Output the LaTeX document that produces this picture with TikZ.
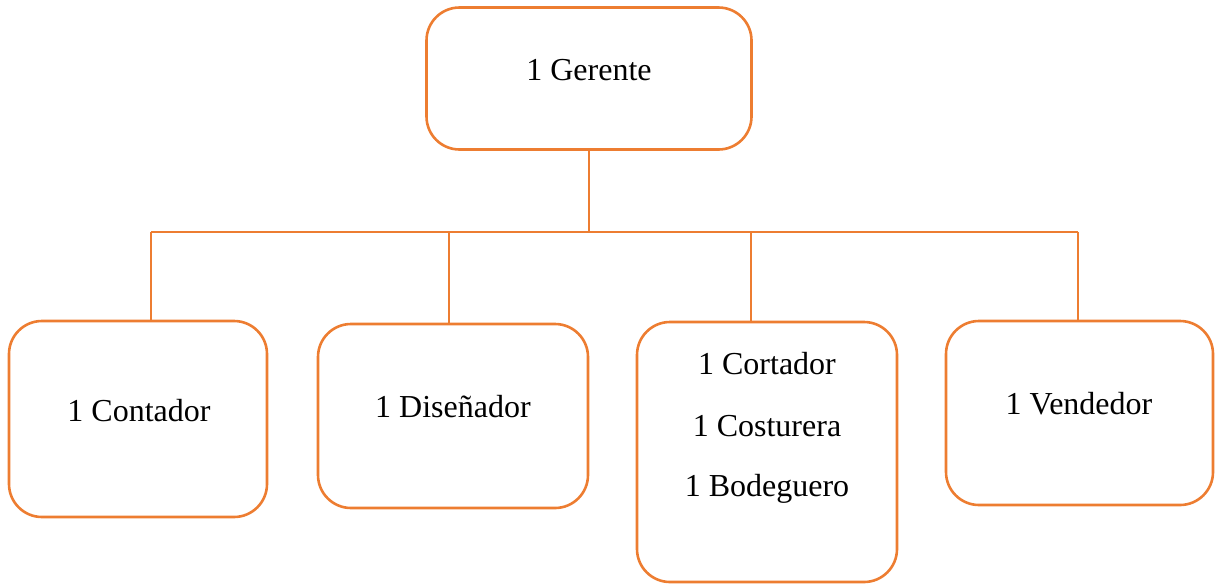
\documentclass[tikz,border=0pt]{standalone}
\usepackage{fontspec}
\setmainfont{Liberation Serif}
\usetikzlibrary{positioning}

\definecolor{naranja}{HTML}{ED7D31}

\begin{document}
\begin{tikzpicture}[x=0.5pt,y=-0.5pt,line width=1.3pt,
    caja/.style={draw=naranja,rounded corners=16.5pt,inner sep=0pt,
      minimum width=#1},
    texto/.style={font=\fontsize{16}{19}\selectfont,text=black},
    linea/.style={draw=naranja,line width=1.4pt}]

    \useasboundingbox (0,0) rectangle (1219,584);

    % cajas
    \node[caja=162.5pt,minimum height=71pt] (gerente)   at (589,78.5)   {};
    \node[caja=129pt,  minimum height=98pt] (contador)  at (138,419)    {};
    \node[caja=135pt,  minimum height=92pt] (disenador) at (453,416)    {};
    \node[caja=130pt,  minimum height=130pt](cortador)  at (767,452)    {};
    \node[caja=133.5pt,minimum height=92pt] (vendedor)  at (1079.5,413) {};

    % textos
    \node[texto] (tgerente)   at (589,70)   {1 Gerente};
    \node[texto] (tcontador)  at (139,411)  {1 Contador};
    \node[texto] (tdisenador) at (453,407)  {1 Diseñador};
    \node[texto] (tcortador)  at (767,364)  {1 Cortador};
    \node[texto] (tcosturera) at (767,426)  {1 Costurera};
    \node[texto] (tbodeguero) at (767,489)  {1 Bodeguero};
    \node[texto] (tvendedor)  at (1079,404) {1 Vendedor};

    % lineas
    \coordinate (b1) at (151,232);
    \coordinate (b2) at (449,232);
    \coordinate (b3) at (751,232);
    \coordinate (b4) at (1078,232);

    \draw[linea] (gerente.south) -- (gerente.south |- b1);
    \draw[linea] (b1) -- (b4);
    \draw[linea] (b1) -- (b1 |- contador.north);
    \draw[linea] (b2) -- (b2 |- disenador.north);
    \draw[linea] (b3) -- (b3 |- cortador.north);
    \draw[linea] (b4) -- (b4 |- vendedor.north);

\end{tikzpicture}
\end{document}
